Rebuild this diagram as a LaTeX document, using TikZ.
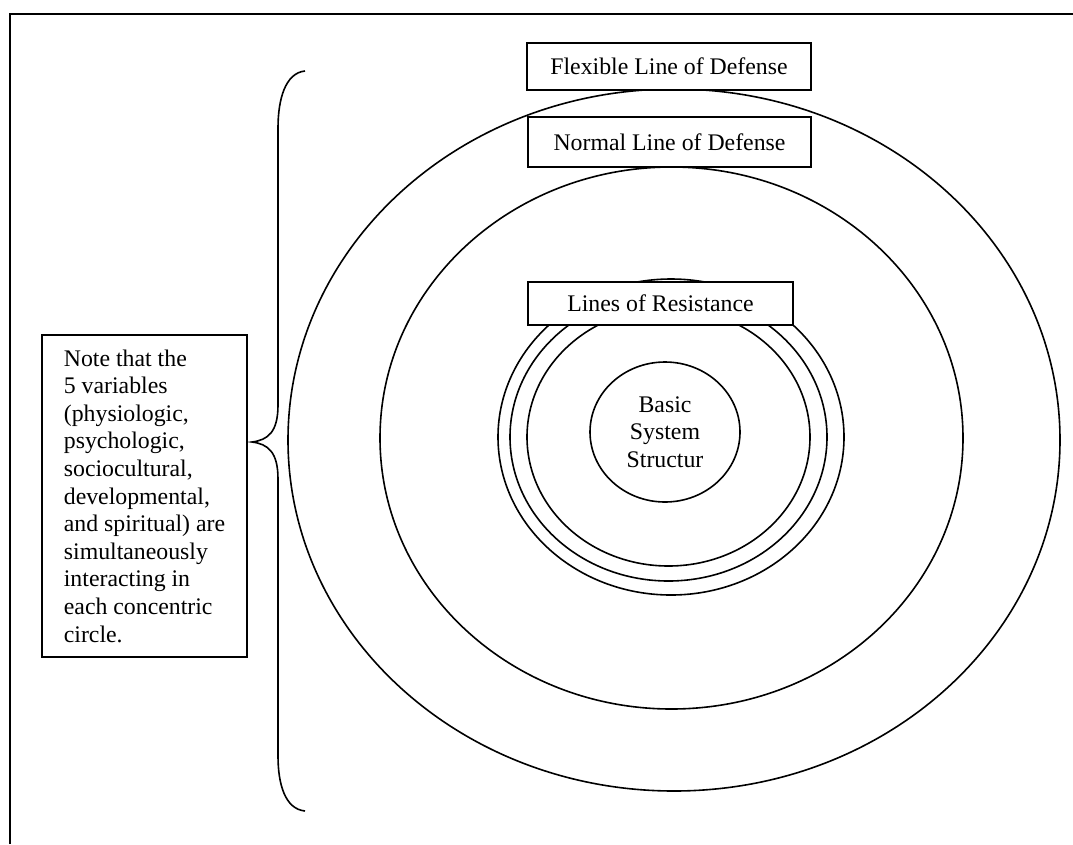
\documentclass[tikz,border=0pt]{standalone}
\usepackage{fontspec}
\setmainfont{Liberation Serif}
\usetikzlibrary{shapes.geometric}
\tikzset{
  ring/.style={draw, ellipse, line width=1.6pt, inner sep=0pt},
  labelbox/.style={draw, fill=white, line width=1.6pt, inner sep=0pt, font=\fontsize{23.8}{27.6}\selectfont},
}

\begin{document}
\begin{tikzpicture}[x=1pt, y=-1pt]
                \useasboundingbox (0,0) rectangle (1073,844);
                % Frame
                \draw[line width=2.2pt] (10,844) -- (10,14) -- (1073,14);

                % Lines of defense
                \node[ring, minimum width=772pt, minimum height=702pt] (flexible) at (674,440) {};
                \node[ring, minimum width=583pt, minimum height=542pt] (normal) at (671.5,438) {};

                % Lines of resistance
                \node[ring, minimum width=346pt, minimum height=316pt] (resist1) at (671,437) {};
                \node[ring, minimum width=317pt, minimum height=288pt] (resist2) at (668.5,437) {};
                \node[ring, minimum width=283pt, minimum height=258pt] (resist3) at (668.5,437) {};

                % Core
                \node[ring, minimum width=150pt, minimum height=140pt, align=center, font=\fontsize{23.8}{27.6}\selectfont] (core) at (665,432) {Basic\\System\\Structur};

                % Brace
                \draw[line width=1.6pt] (305,71) .. controls (285,73) and (278,100) .. (278,128) -- (278,405)
                    .. controls (278,432) and (268,440) .. (252,442)
                    .. controls (268,444) and (278,452) .. (278,479) -- (278,756)
                    .. controls (278,784) and (285,809) .. (305,811);

                % Labels
                \node[labelbox, minimum width=284pt, minimum height=47pt] (flexlabel) at (669,66.5) {Flexible Line of Defense};
                \node[labelbox, minimum width=283pt, minimum height=50pt] (normlabel) at (669.5,142) {Normal Line of Defense};
                \node[labelbox, minimum width=265pt, minimum height=43pt] (resistlabel) at (660.5,303.5) {Lines of Resistance};

                % Note
                \node[labelbox, minimum width=205pt, minimum height=322pt, align=left] (note) at (144.5,496)
                    {Note that the\\5 variables\\(physiologic,\\psychologic,\\sociocultural,\\developmental,\\and spiritual) are\\simultaneously\\interacting in\\each concentric\\circle.};
            \end{tikzpicture}
\end{document}
